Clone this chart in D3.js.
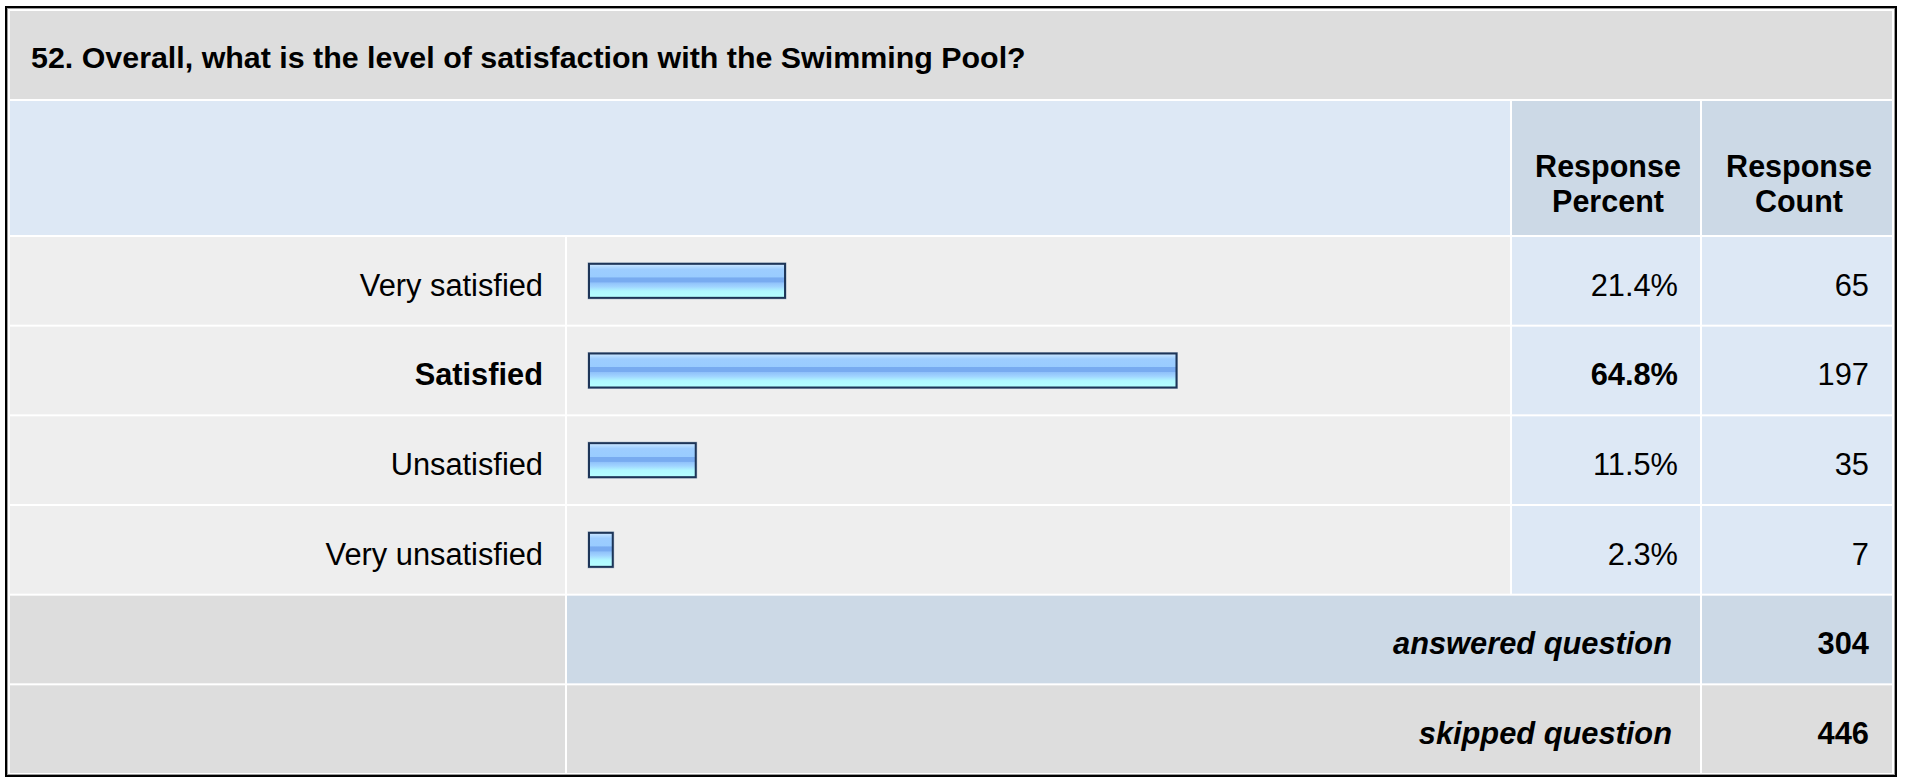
<!DOCTYPE html>
<html>
<head>
<meta charset="utf-8">
<script src="https://cdn.jsdelivr.net/npm/d3@7"></script>
<style>
  html, body { margin: 0; padding: 0; background: #fff; }
  svg text { font-family: "Liberation Sans", Arial, sans-serif; }
</style>
</head>
<body>
<script>
// data
var title = "52. Overall, what is the level of satisfaction with the Swimming Pool?";
var answers = ["Very satisfied", "Satisfied", "Unsatisfied", "Very unsatisfied"];
var percents = [21.4, 64.8, 11.5, 2.3];
var counts = [65, 197, 35, 7];
var headerPercent = ["Response", "Percent"];
var headerCount = ["Response", "Count"];
var summaryLabels = ["answered question", "skipped question"];
var summaryCounts = [304, 446];

var width = 1907;
var height = 777;
var svg = d3.select("body")
    .append("svg")
    .attr("width", width)
    .attr("height", height);

// gradient for the bars
var grad = svg.append("defs").append("linearGradient")
    .attr("id", "barGrad")
    .attr("x1", 0).attr("y1", 0).attr("x2", 0).attr("y2", 1);
[[0, "#c8e4ff"], [0.06, "#b3daff"], [0.14, "#9dcdff"], [0.39, "#99ccff"],
 [0.40, "#78abf0"], [0.54, "#78abf0"], [0.56, "#90c2fa"], [0.68, "#a0d4ff"],
 [0.82, "#b0f8ff"], [1, "#b5ffff"]].forEach(function(s) {
    grad.append("stop").attr("offset", s[0]).attr("stop-color", s[1]);
});

// frame
svg.append("rect").attr("x", 5).attr("y", 6).attr("width", 1892).attr("height", 771).style("fill", "#000");
svg.append("rect").attr("x", 7).attr("y", 8).attr("width", 1888).attr("height", 767).style("fill", "#9a9a9a");
svg.append("rect").attr("x", 8).attr("y", 9).attr("width", 1886).attr("height", 765).style("fill", "#fff");

// columns: label, bar, percent, count
var colL = [10, 567, 1512, 1702];
var colR = [565, 1510, 1700, 1892];

// title band
svg.append("rect").attr("x", 10).attr("y", 11).attr("width", 1882).attr("height", 88).style("fill", "#dddddd");
svg.append("text")
    .attr("x", 31).attr("y", 57)
    .attr("dy", "0.35em")
    .style("font-size", "30.4px").style("font-weight", "bold").style("fill", "#000")
    .text(title);

// header row
svg.append("rect").attr("x", colL[0]).attr("y", 101).attr("width", colR[1] - colL[0]).attr("height", 134).style("fill", "#dde8f5");
[headerPercent, headerCount].forEach(function(lines, k) {
    var c = k + 2;
    svg.append("rect").attr("x", colL[c]).attr("y", 101).attr("width", colR[c] - colL[c]).attr("height", 134).style("fill", "#ccd9e6");
    svg.selectAll(null)
        .data(lines)
        .enter()
        .append("text")
        .attr("x", (colL[c] + colR[c]) / 2 + 2)
        .attr("y", function(d, i) { return 166 + i * 35; })
        .attr("dy", "0.35em")
        .attr("text-anchor", "middle")
        .style("font-size", "30.5px").style("font-weight", "bold")
        .text(function(d) { return d; });
});

// rows
var y = d3.scaleBand()
    .domain(d3.range(answers.length + summaryLabels.length))
    .range([236, 774]);
var x = d3.scaleLinear().domain([0, 100]).range([0, 902]);
var maxIdx = d3.maxIndex(percents);

var rows = svg.selectAll("g.row")
    .data(answers)
    .enter()
    .append("g")
    .attr("class", "row")
    .attr("transform", function(d, i) { return "translate(0," + y(i) + ")"; });

var rowFills = ["#eeeeee", "#eeeeee", "#dde8f5", "#dde8f5"];
rowFills.forEach(function(f, c) {
    rows.append("rect")
        .attr("x", colL[c]).attr("y", 1)
        .attr("width", colR[c] - colL[c]).attr("height", y.step() - 2)
        .style("fill", f);
});

var mid = y.step() / 2;
var textY = mid + 4;
rows.append("text")
    .attr("x", 543).attr("y", textY)
    .attr("dy", "0.35em")
    .attr("text-anchor", "end")
    .style("font-size", "30.8px")
    .style("font-weight", function(d, i) { return i === maxIdx ? "bold" : "normal"; })
    .text(function(d) { return d; });

// bars
rows.append("rect")
    .attr("x", 587.5).attr("y", mid - 18.5)
    .attr("width", function(d, i) { return x(percents[i]) + 6; })
    .attr("height", 37)
    .style("fill", "#b4bfcc");
rows.append("rect")
    .attr("x", 588).attr("y", mid - 18)
    .attr("width", function(d, i) { return x(percents[i]) + 5; })
    .attr("height", 36)
    .style("fill", "#1d3558");
rows.append("rect")
    .attr("x", 590).attr("y", mid - 16)
    .attr("width", function(d, i) { return x(percents[i]) + 1; })
    .attr("height", 32)
    .style("fill", "url(#barGrad)");

rows.append("text")
    .attr("x", 1678).attr("y", textY)
    .attr("dy", "0.35em")
    .attr("text-anchor", "end")
    .style("font-size", "30.8px")
    .style("font-weight", function(d, i) { return i === maxIdx ? "bold" : "normal"; })
    .text(function(d, i) { return percents[i].toFixed(1) + "%"; });

rows.append("text")
    .attr("x", 1869).attr("y", textY)
    .attr("dy", "0.35em")
    .attr("text-anchor", "end")
    .style("font-size", "30.8px")
    .text(function(d, i) { return counts[i]; });

// summary rows
var sums = svg.selectAll("g.sum")
    .data(summaryLabels)
    .enter()
    .append("g")
    .attr("class", "sum")
    .attr("transform", function(d, i) { return "translate(0," + y(answers.length + i) + ")"; });

sums.append("rect")
    .attr("x", colL[0]).attr("y", 1)
    .attr("width", colR[0] - colL[0]).attr("height", y.step() - 2)
    .style("fill", "#dddddd");
sums.append("rect")
    .attr("x", colL[1]).attr("y", 1)
    .attr("width", colR[2] - colL[1]).attr("height", y.step() - 2)
    .style("fill", function(d, i) { return i === 0 ? "#ccd9e6" : "#dddddd"; });
sums.append("rect")
    .attr("x", colL[3]).attr("y", 1)
    .attr("width", colR[3] - colL[3]).attr("height", y.step() - 2)
    .style("fill", function(d, i) { return i === 0 ? "#ccd9e6" : "#dddddd"; });

sums.append("text")
    .attr("x", 1672).attr("y", textY)
    .attr("dy", "0.35em")
    .attr("text-anchor", "end")
    .style("font-size", "30.8px").style("font-weight", "bold").style("font-style", "italic")
    .text(function(d) { return d; });
sums.append("text")
    .attr("x", 1869).attr("y", textY)
    .attr("dy", "0.35em")
    .attr("text-anchor", "end")
    .style("font-size", "30.8px").style("font-weight", "bold")
    .text(function(d, i) { return summaryCounts[i]; });
</script>
</body>
</html>
